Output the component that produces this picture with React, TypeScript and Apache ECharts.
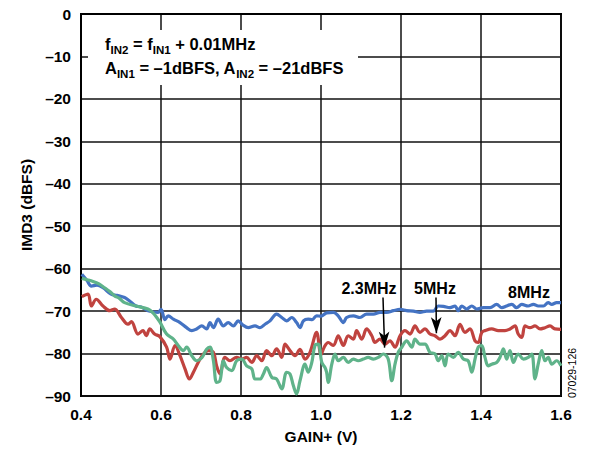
import React, { useEffect, useRef } from "react";
import * as echarts from "echarts";

const xTicks = { min: 0.4, max: 1.6, interval: 0.2 };
const yTicks = { min: -90, max: 0, interval: 10 };

const blue8MHz: [number, number][] = [
  [0.402, -61.3], [0.415, -62.8], [0.426, -64.1], [0.44, -63.9], [0.455, -64.5], [0.475, -66.0], [0.49, -66.3],
  [0.509, -66.8], [0.52, -67.5], [0.5375, -68.8], [0.55, -69.0], [0.5675, -69.9], [0.5925, -70.3], [0.6, -69.6],
  [0.61, -72.0], [0.618, -71.1], [0.631, -71.9], [0.6475, -72.7], [0.664, -73.9], [0.677, -74.6], [0.689, -74.2],
  [0.702, -73.5], [0.714, -74.2], [0.7225, -72.7], [0.731, -73.9], [0.743, -71.9], [0.756, -73.5], [0.768, -72.7],
  [0.781, -73.5], [0.793, -72.3], [0.805, -73.3], [0.818, -73.9], [0.835, -73.5], [0.8475, -73.9], [0.86, -73.1],
  [0.8725, -72.3], [0.889, -70.7], [0.902, -71.5], [0.914, -72.3], [0.927, -71.5], [0.939, -72.7], [0.9475, -73.9],
  [0.956, -72.3], [0.968, -71.9], [0.978, -72.0], [0.989, -71.1], [1.0, -71.2], [1.014, -70.4], [1.031, -70.3],
  [1.043, -71.1], [1.056, -72.7], [1.064, -71.5], [1.081, -71.1], [1.0975, -71.5], [1.114, -70.7], [1.131, -70.7],
  [1.1475, -70.3], [1.164, -70.3], [1.181, -69.9], [1.1975, -69.6], [1.214, -69.9], [1.231, -70.0], [1.2475, -70.3],
  [1.264, -70.0], [1.281, -70.0], [1.293, -68.8], [1.306, -68.9], [1.3225, -69.2], [1.335, -68.8], [1.343, -69.9],
  [1.352, -68.8], [1.364, -69.5], [1.377, -68.8], [1.389, -69.5], [1.406, -69.2], [1.4225, -69.2], [1.439, -68.4],
  [1.452, -69.2], [1.464, -68.8], [1.477, -68.4], [1.489, -69.2], [1.502, -68.4], [1.518, -68.8], [1.531, -68.4],
  [1.543, -68.8], [1.556, -68.8], [1.568, -68.0], [1.577, -68.4], [1.589, -68.0], [1.6, -68.0],
];

const red5MHz: [number, number][] = [
  [0.402, -66.6], [0.4175, -66.0], [0.426, -68.8], [0.438, -67.2], [0.455, -68.8], [0.472, -69.9], [0.484, -69.5],
  [0.501, -71.5], [0.5175, -73.1], [0.526, -72.5], [0.5425, -75.4], [0.555, -74.6], [0.563, -75.8], [0.572, -74.2],
  [0.584, -75.4], [0.597, -76.0], [0.614, -78.5], [0.6225, -81.3], [0.635, -78.1], [0.6475, -80.5], [0.66, -83.6],
  [0.671, -86.0], [0.681, -84.4], [0.693, -82.1], [0.706, -80.1], [0.718, -79.3], [0.731, -79.7], [0.739, -82.9],
  [0.7475, -84.8], [0.76, -80.9], [0.7725, -81.7], [0.789, -80.9], [0.802, -81.3], [0.814, -80.9], [0.827, -82.1],
  [0.839, -80.5], [0.852, -81.7], [0.864, -79.3], [0.877, -80.5], [0.889, -78.9], [0.902, -80.9], [0.91, -77.8],
  [0.9225, -79.3], [0.935, -80.5], [0.9475, -79.0], [0.96, -81.3], [0.9725, -79.7], [0.989, -75.0], [1.0, -80.3],
  [1.008, -78.5], [1.018, -77.4], [1.031, -78.1], [1.043, -75.8], [1.056, -78.1], [1.068, -75.8], [1.081, -76.6],
  [1.089, -74.6], [1.102, -76.6], [1.114, -74.2], [1.127, -75.8], [1.135, -77.4], [1.1475, -76.6], [1.16, -77.8],
  [1.1725, -77.0], [1.185, -78.5], [1.1975, -75.8], [1.21, -74.6], [1.2225, -75.4], [1.235, -73.5], [1.2475, -75.0],
  [1.26, -74.2], [1.2725, -75.4], [1.285, -75.8], [1.2975, -76.6], [1.31, -75.8], [1.3225, -74.6], [1.335, -75.8],
  [1.3475, -73.1], [1.36, -75.0], [1.3725, -74.2], [1.385, -77.0], [1.393, -77.4], [1.402, -75.0], [1.41, -74.6],
  [1.427, -74.2], [1.443, -74.6], [1.46, -74.6], [1.4725, -74.2], [1.485, -73.5], [1.493, -75.4], [1.502, -76.2],
  [1.51, -73.5], [1.5225, -73.9], [1.535, -73.5], [1.5475, -74.2], [1.56, -73.9], [1.5725, -73.5], [1.585, -74.2],
  [1.6, -74.3],
];

const green2_3MHz: [number, number][] = [
  [0.402, -62.3], [0.415, -62.6], [0.43, -63.0], [0.445, -63.6], [0.459, -64.5], [0.472, -65.4], [0.484, -66.4],
  [0.496, -67.0], [0.509, -68.0], [0.5375, -68.8], [0.5675, -69.5], [0.58, -70.4], [0.5925, -71.9], [0.5975, -72.6],
  [0.614, -75.4], [0.631, -76.6], [0.643, -78.1], [0.656, -79.3], [0.664, -78.5], [0.677, -80.5], [0.689, -81.7],
  [0.702, -81.0], [0.714, -79.0], [0.7225, -78.5], [0.731, -81.7], [0.739, -86.8], [0.7475, -86.4], [0.756, -81.7],
  [0.764, -83.3], [0.777, -84.0], [0.789, -81.7], [0.802, -81.3], [0.814, -82.9], [0.827, -83.6], [0.835, -86.0],
  [0.8475, -86.0], [0.856, -84.8], [0.864, -83.3], [0.877, -85.6], [0.889, -86.0], [0.902, -88.3], [0.914, -84.4],
  [0.9225, -84.8], [0.931, -87.6], [0.939, -89.5], [0.9475, -86.4], [0.96, -82.5], [0.968, -84.4], [0.977, -82.1],
  [0.985, -78.1], [0.993, -77.8], [1.002, -82.1], [1.01, -83.3], [1.014, -84.4], [1.018, -86.8], [1.027, -82.5],
  [1.035, -80.1], [1.043, -81.7], [1.056, -80.9], [1.068, -82.1], [1.081, -81.3], [1.093, -81.7], [1.106, -81.3],
  [1.118, -80.9], [1.131, -81.3], [1.143, -80.9], [1.156, -80.1], [1.168, -81.3], [1.177, -86.4], [1.185, -82.5],
  [1.193, -79.7], [1.202, -78.5], [1.214, -77.0], [1.227, -78.5], [1.235, -76.6], [1.2475, -77.8], [1.26, -77.8],
  [1.2725, -79.7], [1.285, -80.1], [1.293, -81.7], [1.302, -80.5], [1.31, -82.9], [1.318, -80.1], [1.331, -80.9],
  [1.343, -79.7], [1.356, -81.3], [1.368, -81.7], [1.377, -84.4], [1.385, -81.3], [1.393, -78.5], [1.402, -78.1],
  [1.41, -80.9], [1.418, -82.9], [1.427, -82.5], [1.439, -82.1], [1.4475, -80.9], [1.456, -78.9], [1.464, -81.3],
  [1.4725, -79.3], [1.481, -82.1], [1.493, -80.1], [1.506, -81.3], [1.518, -80.9], [1.527, -80.1], [1.535, -86.0],
  [1.543, -82.5], [1.552, -79.3], [1.56, -81.7], [1.568, -80.9], [1.577, -82.5], [1.589, -81.7], [1.6, -82.9],
];

const arrow23: [number, number][] = [[1.155, -66.8], [1.159, -78.6]];
const arrow5: [number, number][] = [[1.2875, -66.8], [1.2885, -75.2]];

const FONT = "'Liberation Sans', Arial, sans-serif";

export default function App() {
  const ref = useRef<HTMLDivElement>(null);
  useEffect(() => {
    if (!ref.current) return;
    const chart = echarts.init(ref.current, undefined, { renderer: "svg" });
    const lineSeries = (name: string, data: [number, number][], color: string, extra: any = {}) => ({
      name,
      type: "line",
      data,
      showSymbol: false,
      symbol: "none",
      smooth: 0.35,
      lineStyle: { color, width: 3.2 },
      itemStyle: { color },
      ...extra,
    });
    const arrowMark = {
      silent: true,
      symbol: ["none", "arrow"],
      symbolSize: [8, 16],
      lineStyle: { color: "#000", width: 1.5, type: "solid" },
      label: { show: false },
      emphasis: { disabled: true },
      data: [
        [{ coord: arrow23[0] }, { coord: arrow23[1] }],
        [{ coord: arrow5[0] }, { coord: arrow5[1] }],
      ],
    };
    chart.setOption({
      animation: false,
      backgroundColor: "#fff",
      textStyle: { fontFamily: FONT },
      grid: {
        left: 81,
        right: 30,
        top: 14,
        bottom: 52,
        show: true,
        borderColor: "#000",
        borderWidth: 2,
        backgroundColor: "transparent",
      },
      xAxis: {
        type: "value",
        min: xTicks.min,
        max: xTicks.max,
        interval: xTicks.interval,
        name: "GAIN+ (V)",
        nameLocation: "middle",
        nameGap: 32,
        nameTextStyle: { fontFamily: FONT, fontWeight: "bold", fontSize: 15.5, color: "#000" },
        axisLine: { show: true, lineStyle: { color: "#000", width: 2 } },
        axisTick: { show: false },
        axisLabel: {
          fontFamily: FONT,
          fontWeight: "bold",
          fontSize: 15.5,
          color: "#000",
          margin: 10,
          formatter: (v: number) => v.toFixed(1),
        },
        splitLine: { show: true, lineStyle: { color: "#111", width: 1.5 } },
      },
      yAxis: {
        type: "value",
        min: yTicks.min,
        max: yTicks.max,
        interval: yTicks.interval,
        name: "IMD3 (dBFS)",
        nameLocation: "middle",
        nameRotate: 90,
        nameGap: 45,
        nameTextStyle: { fontFamily: FONT, fontWeight: "bold", fontSize: 15.5, color: "#000" },
        axisLine: { show: true, lineStyle: { color: "#000", width: 2 } },
        axisTick: { show: false },
        axisLabel: {
          fontFamily: FONT,
          fontWeight: "bold",
          fontSize: 15.5,
          color: "#000",
          margin: 10,
          formatter: (v: number) => (v === 0 ? "0" : "\u2013" + Math.abs(v)),
        },
        splitLine: { show: true, lineStyle: { color: "#111", width: 1.5 } },
      },
      series: [
        lineSeries("8MHz", blue8MHz, "#4473c3"),
        lineSeries("5MHz", red5MHz, "#c0433f", { markLine: arrowMark }),
        lineSeries("2.3MHz", green2_3MHz, "#5fb38a"),
      ],
      graphic: [
        {
          type: "rect",
          z: 100,
          shape: { x: 88, y: 30, width: 270, height: 55 },
          style: { fill: "#fff" },
        },
        {
          type: "text",
          z: 101,
          x: 105,
          y: 32,
          style: {
            text:
              "{b|f}{s|IN2}{b| = f}{s|IN1}{b| + 0.01MHz}\n{b|A}{s|IN1}{b| = \u20131dBFS, A}{s|IN2}{b| = \u201321dBFS}",
            rich: {
              b: { fontFamily: FONT, fontWeight: "bold", fontSize: 16.5, lineHeight: 24, fill: "#000", verticalAlign: "middle" },
              s: { fontFamily: FONT, fontWeight: "bold", fontSize: 11.5, lineHeight: 24, fill: "#000", verticalAlign: "bottom" },
            },
          },
        },
        {
          type: "text",
          z: 101,
          x: 369,
          y: 288,
          style: { text: "2.3MHz", fontFamily: FONT, fontWeight: "bold", fontSize: 16, fill: "#000", align: "center", verticalAlign: "middle" },
        },
        {
          type: "text",
          z: 101,
          x: 435,
          y: 288,
          style: { text: "5MHz", fontFamily: FONT, fontWeight: "bold", fontSize: 16, fill: "#000", align: "center", verticalAlign: "middle" },
        },
        {
          type: "text",
          z: 101,
          x: 529,
          y: 292,
          style: { text: "8MHz", fontFamily: FONT, fontWeight: "bold", fontSize: 16, fill: "#000", align: "center", verticalAlign: "middle" },
        },
        {
          type: "text",
          z: 101,
          x: 572,
          y: 373,
          rotation: Math.PI / 2,
          style: { text: "07029-126", fontFamily: FONT, fontSize: 10.5, fill: "#000", align: "center", verticalAlign: "middle" },
        },
      ],
    });
    return () => chart.dispose();
  }, []);
  return <div ref={ref} style={{ position: "fixed", left: 0, top: 0, width: 591, height: 449 }} />;
}
